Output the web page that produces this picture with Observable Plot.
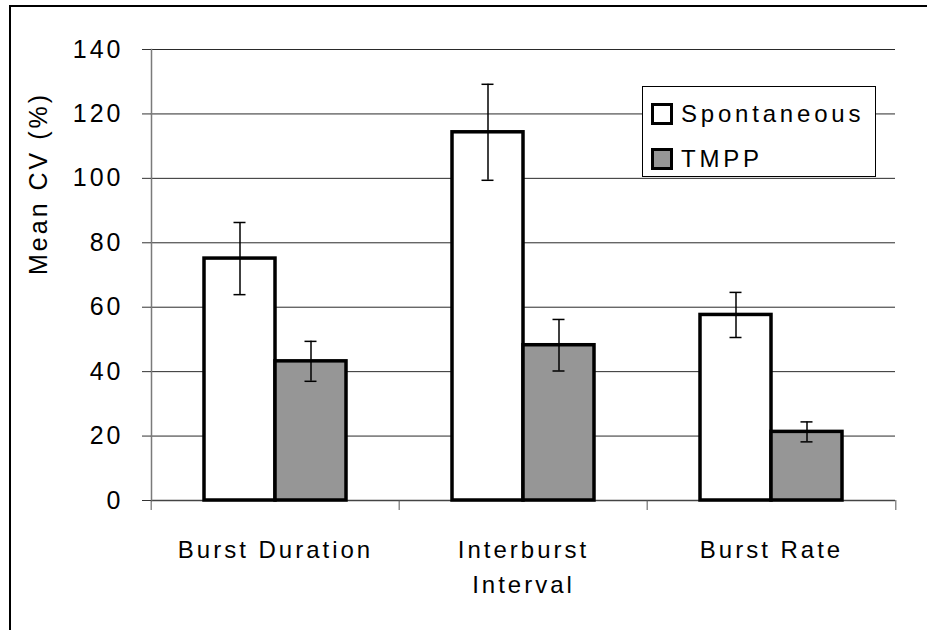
<!DOCTYPE html>
<html>
<head>
<meta charset="utf-8">
<script src="https://cdn.jsdelivr.net/npm/d3@7"></script>
<script src="https://cdn.jsdelivr.net/npm/@observablehq/plot@0.6"></script>
<style>
  body { margin: 0; background: #fff; }
  #chart { position: relative; width: 927px; height: 630px; overflow: hidden;
           font-family: "Liberation Sans", Arial, sans-serif; color: #000; }
  #chart svg { position: absolute; left: 0; top: 0; }
  #chart svg text { letter-spacing: 3px; }
  #border { position: absolute; left: 9px; top: 5px; right: -4px; bottom: -4px;
            border-top: 2px solid #000; border-left: 2px solid #000; pointer-events: none; }
  .legend { position: absolute; left: 642px; top: 86px; width: 234px; height: 91px;
            box-sizing: border-box; border: 1px solid #000; background: #fff; }
  .legend .row { position: absolute; left: 8px; height: 30px; display: flex; align-items: center; }
  .legend .sw { width: 22px; height: 22px; box-sizing: border-box; border: 3px solid #000; margin-right: 8px; }
  .legend .lab { font-size: 24px; letter-spacing: 3.8px; line-height: 30px; }
</style>
</head>
<body>
<div id="chart"></div>
<script>
// Coefficient of variation of bursting, spontaneous vs. TMPP
const categories = ["Burst Duration", "Interburst Interval", "Burst Rate"];
const categoryLabels = ["Burst Duration", "Interburst\nInterval", "Burst Rate"];
const series = ["Spontaneous", "TMPP"];
const spontaneous = [75.1, 114.3, 57.6];
const spontaneousErr = [11.2, 14.9, 7.0];
const tmpp = [43.2, 48.2, 21.3];
const tmppErr = [6.2, 8.0, 3.1];
const yTicks = [0, 20, 40, 60, 80, 100, 120, 140];
const fills = ["#ffffff", "#969696"];
const yTitle = "Mean CV (%)";

const rows = categories.flatMap((c, i) => [
  {category: c, series: series[0], value: spontaneous[i], err: spontaneousErr[i]},
  {category: c, series: series[1], value: tmpp[i], err: tmppErr[i]}
]);

const W = 927, H = 630, mL = 150, mR = 31, mT = 49, mB = 130;
const band = (W - mL - mR) / categories.length;
const font = "'Liberation Sans', Arial, sans-serif";

const chart = Plot.plot({
  width: W,
  height: H,
  marginLeft: mL,
  marginRight: mR,
  marginTop: mT,
  marginBottom: mB,
  style: {fontFamily: font, fontSize: "24px", color: "#000", background: "transparent"},
  fx: {domain: categories, padding: 0, label: null, axis: null},
  x: {domain: series, paddingInner: 0, paddingOuter: 0.734, axis: null},
  y: {domain: [0, 140], axis: null},
  color: {domain: series, range: fills},
  marks: [
    // horizontal gridlines
    Plot.ruleY(yTicks.slice(1), {stroke: "#2a2a2a", strokeWidth: 1}),
    // x baseline
    Plot.ruleY([0], {stroke: "#444", strokeWidth: 1.5}),
    // bars
    Plot.barY(rows, {fx: "category", x: "series", y: "value", fill: "series",
                     stroke: "#000", strokeWidth: 3.5, strokeLinejoin: "miter"}),
    // error bars
    Plot.ruleX(rows, {fx: "category", x: "series", y1: d => d.value - d.err, y2: d => d.value + d.err,
                      stroke: "#000", strokeWidth: 1.5}),
    Plot.tickY(rows, {fx: "category", x: "series", y: d => d.value + d.err,
                      insetLeft: 29.5, insetRight: 29.5, stroke: "#000", strokeWidth: 1.5}),
    Plot.tickY(rows, {fx: "category", x: "series", y: d => d.value - d.err,
                      insetLeft: 29.5, insetRight: 29.5, stroke: "#000", strokeWidth: 1.5}),
    // y axis line
    Plot.frame({anchor: "left", facetAnchor: "left", stroke: "#7a7a7a", strokeWidth: 1.5}),
    Plot.axisY({ticks: yTicks, tickSize: 9, tickPadding: 19, fontSize: 25, label: null, stroke: "#333"}),
    // category labels
    Plot.axisFx({anchor: "bottom", tickSize: 0, tickPadding: 33, fontSize: 24, lineHeight: 1.45, label: null,
                 tickFormat: d => categoryLabels[categories.indexOf(d)]}),
    // category boundary ticks
    Plot.axisFx({anchor: "bottom", tickSize: 10, tickFormat: () => "", dx: -band / 2, label: null, stroke: "#555"}),
    Plot.axisFx({anchor: "bottom", ticks: [categories[categories.length - 1]], tickSize: 10, tickFormat: () => "",
                 dx: band / 2, label: null, stroke: "#555"}),
    // y title
    Plot.text([yTitle], {text: d => d, frameAnchor: "left", facetAnchor: "left", dx: -113,
                         rotate: -90, fontSize: 25})
  ]
});

const root = document.getElementById("chart");
root.appendChild(chart);

const border = document.createElement("div");
border.id = "border";
root.appendChild(border);

// legend
const legend = document.createElement("div");
legend.className = "legend";
series.forEach((s, i) => {
  const row = document.createElement("div");
  row.className = "row";
  row.style.top = (12 + i * 45) + "px";
  const sw = document.createElement("div");
  sw.className = "sw";
  sw.style.background = fills[i];
  const lab = document.createElement("span");
  lab.className = "lab";
  lab.textContent = s;
  row.appendChild(sw);
  row.appendChild(lab);
  legend.appendChild(row);
});
root.appendChild(legend);
</script>
</body>
</html>
